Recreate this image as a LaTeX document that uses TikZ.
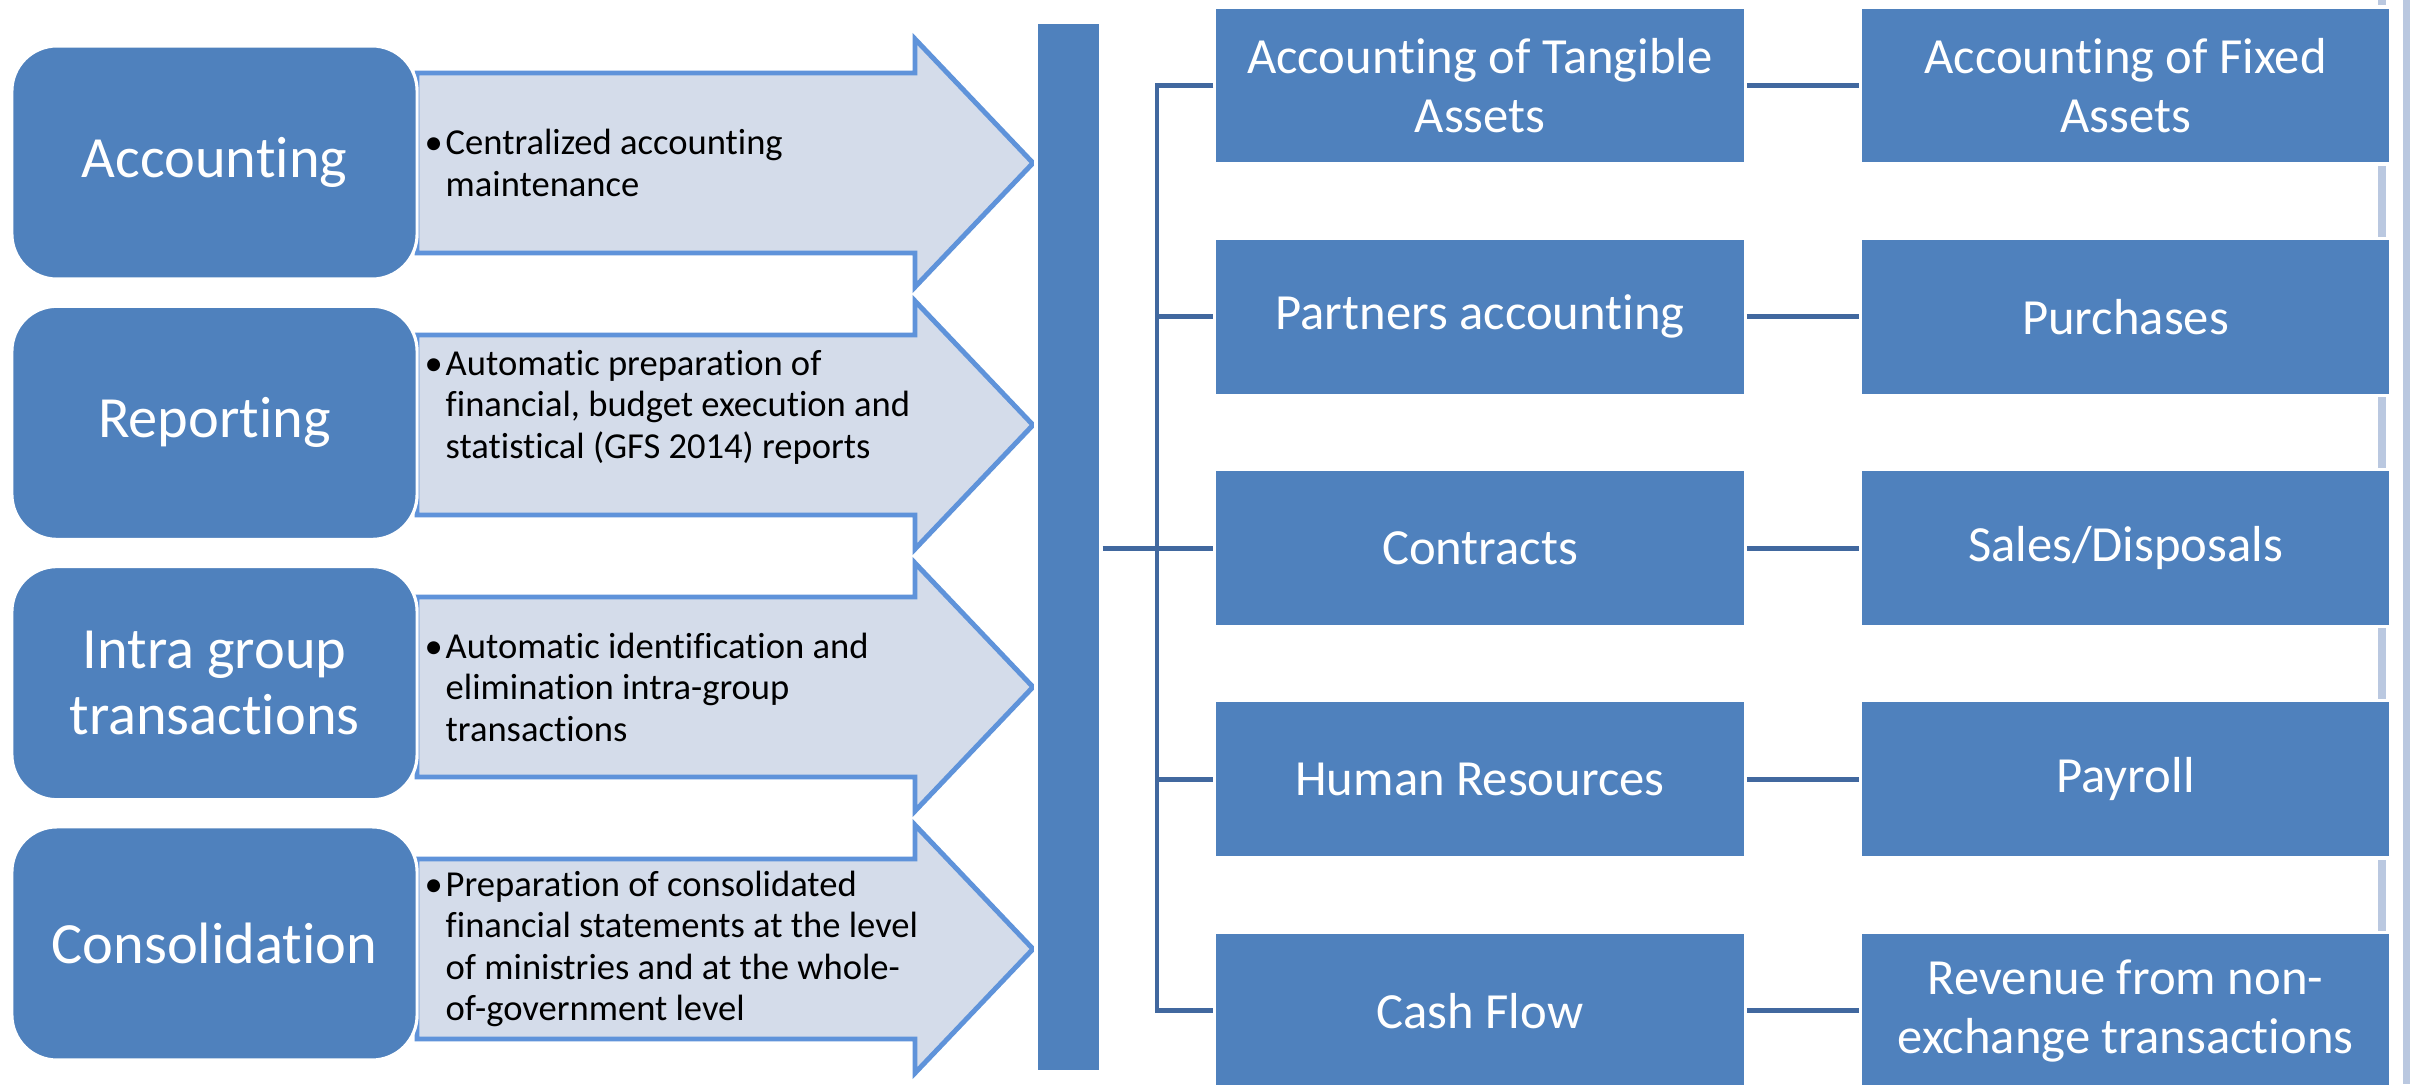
\documentclass[tikz,border=0pt]{standalone}
\usepackage{fontspec}
\setmainfont{Carlito}[Ligatures=NoCommon]
\usetikzlibrary{positioning}
\definecolor{boxblue}{HTML}{4F81BD}
\definecolor{arrowfill}{HTML}{D4DCEA}
\definecolor{arrowline}{HTML}{5F93DA}
\definecolor{treeblue}{HTML}{41689F}
\definecolor{stripe}{HTML}{BAC8E0}
\newcommand{\descbullet}{\makebox[0.21cm][l]{\textbullet}}
\newcommand{\descindent}{\hspace*{0.21cm}}
\tikzset{
    %Define style for the area boxes on the left
    areanode/.style={
             rectangle, rounded corners=0.45cm,
             fill=boxblue, draw=white, line width=0.9pt,
             text=white, align=center,
             minimum width=4.05cm, minimum height=2.33cm,
             font=\fontsize{16.6}{18.8}\selectfont},
    %Define style for the module boxes on the right
    modnode/.style={
             rectangle,
             fill=boxblue, draw=white, line width=0.9pt,
             text=white, align=center,
             minimum width=5.3cm, minimum height=1.57cm,
             font=\fontsize{14.4}{16.8}\selectfont},
    %Define style for the vertical bar
    barnode/.style={
             rectangle, inner sep=0pt,
             fill=boxblue, draw=white, line width=0.9pt,
             minimum width=0.65cm, minimum height=10.48cm},
    % Define style for the text inside the arrows
    descnode/.style={
             anchor=west, inner sep=0pt, align=left,
             font=\fontsize{10.4}{11.8}\selectfont},
    % Define style for the big arrows
    descarrow/.style={
             fill=arrowfill, draw=arrowline,
             line width=1.4pt, line join=miter},
    % Define line style
    treeline/.style={
             draw=treeblue,
             line width=1.4pt}
}
\begin{document}
\begin{tikzpicture}[x=0.01cm, y=-0.01cm]
    \useasboundingbox (0,0) rectangle (2410,1084);
    \fill[white] (0,0) rectangle (2410,1084);
    \fill[stripe] (2378,0) rectangle (2386,1084);
    \fill[stripe] (2403,0) rectangle (2410,1084);
    % arrows behind the boxes
    \foreach \yc in {163,425,687,949}
        \draw[descarrow] (417,{\yc-90}) -- (915,{\yc-90}) -- (915,{\yc-124})
            -- (1033,\yc) -- (915,{\yc+124}) -- (915,{\yc+90}) -- (417,{\yc+90}) -- cycle;
    \node[areanode] (acc) at (214.5,162.5) {Accounting};
    \node[areanode, below=0.24cm of acc] (rep) {Reporting};
    \node[areanode, below=0.24cm of rep] (intra) {Intra group\\transactions};
    \node[areanode, below=0.24cm of intra] (cons) {Consolidation};
    \node[descnode] (accdesc) at (424,163) {\descbullet Centralized accounting\\\descindent maintenance};
    \node[descnode] (repdesc) at (424,407) {\descbullet Automatic preparation of\\\descindent financial, budget execution and\\\descindent statistical (GFS 2014) reports};
    \node[descnode] (intradesc) at (424,687) {\descbullet Automatic identification and\\\descindent elimination intra-group\\\descindent transactions};
    \node[descnode] (consdesc) at (424,949) {\descbullet Preparation of consolidated\\\descindent financial statements at the level\\\descindent of ministries and at the whole-\\\descindent of-government level};
    \node[barnode] (bar) at (1068.5,547) {};
    \node[modnode] (tangible) at (1480,85.5) {Accounting of Tangible\\Assets};
    \node[modnode, below=0.71cm of tangible] (partners) {Partners accounting};
    \node[modnode, below=0.71cm of partners] (contracts) {Contracts};
    \node[modnode, below=0.71cm of contracts] (human) {Human Resources};
    \node[modnode, below=0.71cm of human] (cashflow) {Cash Flow};
    \node[modnode, right=1.12cm of tangible] (fixed) {Accounting of Fixed\\Assets};
    \node[modnode, right=1.12cm of partners] (purchases) {Purchases};
    \node[modnode, right=1.12cm of contracts] (sales) {Sales/Disposals};
    \node[modnode, right=1.12cm of human] (payroll) {Payroll};
    \node[modnode, right=1.12cm of cashflow] (revenue) {Revenue from non-\\exchange transactions};
    \coordinate (trunk) at (1157,0);
    \draw[treeline] (tangible.west) -| (trunk |- cashflow.west) -- (cashflow.west);
    \foreach \m in {partners,contracts,human}
        \draw[treeline] (trunk |- \m.west) -- (\m.west);
    \draw[treeline] (bar.east |- contracts.west) -- (trunk |- contracts.west);
    \foreach \a/\b in {tangible/fixed,partners/purchases,contracts/sales,human/payroll,cashflow/revenue}
        \draw[treeline] (\a) -- (\b);
\end{tikzpicture}
\end{document}
